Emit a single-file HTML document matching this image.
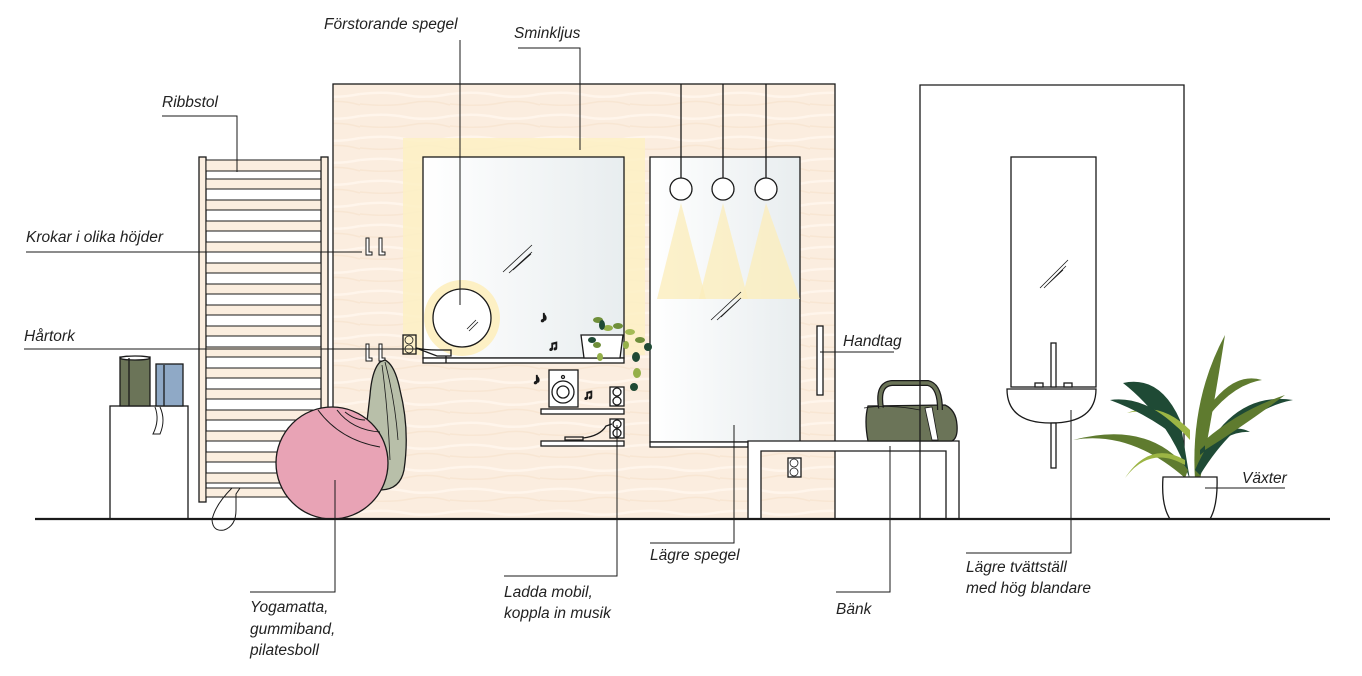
<!DOCTYPE html>
<html><head><meta charset="utf-8"><style>
html,body{margin:0;padding:0;background:#fff;}
svg{display:block}
text{font-family:"Liberation Sans",sans-serif;font-style:italic;font-size:15.5px;fill:#222;}
</style></head><body>
<svg width="1362" height="676" viewBox="0 0 1362 676" xmlns="http://www.w3.org/2000/svg">
<defs>
<linearGradient id="mir" x1="0" x2="1" y1="0" y2="0"><stop offset="0" stop-color="#ffffff"/><stop offset="1" stop-color="#e8edef"/></linearGradient>
<pattern id="wood" width="90" height="22" patternUnits="userSpaceOnUse"><rect width="90" height="22" fill="#fbeddf"/><path d="M0 6 Q25 3 45 7 T90 6" stroke="#fff5eb" stroke-width="2.5" fill="none"/><path d="M0 16 Q30 19 50 15 T90 17" stroke="#f8e6d3" stroke-width="1.5" fill="none"/></pattern>
</defs>
<g stroke="#1a1a1a" stroke-width="1.3" fill="none">
<rect x="333" y="84" width="502" height="435" fill="url(#wood)"/>
<rect x="403" y="138" width="242" height="217" fill="#fdf0c4" stroke="none" opacity="0.85"/>
<rect x="423" y="157" width="201" height="201" fill="url(#mir)"/>
<rect x="423" y="358" width="201" height="5" fill="#fff"/>
<circle cx="462" cy="318" r="38" fill="#fdf0c4" stroke="none"/>
<circle cx="462" cy="318" r="29" fill="#fff"/>
<path d="M467 329 L476 320 M469 331 L478 322" stroke-width="0.8"/>
<path d="M503 272 L532 245 M509 273 L532 252 M513 270 L531 254" stroke-width="0.8"/>
<rect x="650" y="157" width="150" height="285" fill="url(#mir)"/>
<rect x="650" y="442" width="98" height="5" fill="#fff"/>
<polygon points="681,203 657,299 706,299" fill="#fbeebd" stroke="none" opacity="0.8"/>
<polygon points="723,203 699,299 748,299" fill="#fbeebd" stroke="none" opacity="0.8"/>
<polygon points="766,203 742,299 800,299" fill="#fbeebd" stroke="none" opacity="0.8"/>
<path d="M681 84 V178 M723 84 V178 M766 84 V178"/>
<circle cx="681" cy="189" r="11" fill="#fff"/><circle cx="723" cy="189" r="11" fill="#fff"/><circle cx="766" cy="189" r="11" fill="#fff"/>
<path d="M711 320 L741 292 M717 320 L741 298 M721 317 L739 300" stroke-width="0.8"/>
<rect x="817" y="326" width="6" height="69" fill="#fff"/>
<rect x="541" y="409" width="83" height="5" fill="#fff"/>
<rect x="541" y="441" width="83" height="5" fill="#fff"/>
<rect x="549" y="370" width="29" height="37" fill="#fff"/>
<circle cx="563" cy="392" r="11"/><circle cx="563" cy="392" r="6"/><circle cx="563" cy="377" r="1.5"/>
<rect x="610" y="387" width="14" height="19" fill="#fff"/><circle cx="617" cy="392" r="4"/><circle cx="617" cy="401" r="4"/>
<rect x="610" y="419" width="14" height="19" fill="#fff"/><circle cx="617" cy="424" r="4"/><circle cx="617" cy="433" r="4"/>
<path d="M565 437 h18 v3 h-18z M583 438 Q600 436 606 426 L612 424"/>
<rect x="403" y="335" width="13" height="19"/><circle cx="409" cy="340" r="4" stroke-width="0.8"/><circle cx="409" cy="349" r="4" stroke-width="0.8"/>
<path d="M416 348 Q425 350 437 350 h14 v6 h-14z M446 356 v7" />
<text x="540" y="322" style="font-style:normal;font-size:15px">♪</text>
<text x="548" y="350" style="font-style:normal;font-size:14px">♫</text>
<text x="533" y="384" style="font-style:normal;font-size:15px">♪</text>
<text x="583" y="399" style="font-style:normal;font-size:14px">♫</text>
<path d="M581 335 h42 l-3 23 h-36z" fill="#fff"/>
<g fill="#6f8f3a" stroke="none">
<ellipse cx="598" cy="320" rx="5" ry="3"/><ellipse cx="608" cy="328" rx="5" ry="3" fill="#95b04a"/><ellipse cx="618" cy="326" rx="5" ry="3"/><ellipse cx="630" cy="332" rx="5" ry="3" fill="#a4bb55"/><ellipse cx="640" cy="340" rx="5" ry="3"/><ellipse cx="648" cy="347" rx="4" ry="4" fill="#1f4a35"/><ellipse cx="636" cy="357" rx="4" ry="5" fill="#1f4a35"/><ellipse cx="637" cy="373" rx="4" ry="5" fill="#95b04a"/><ellipse cx="634" cy="387" rx="4" ry="4" fill="#1f4a35"/><ellipse cx="597" cy="345" rx="4" ry="3"/><ellipse cx="600" cy="357" rx="3" ry="4" fill="#95b04a"/><ellipse cx="592" cy="340" rx="4" ry="3" fill="#1f4a35"/><ellipse cx="602" cy="325" rx="3" ry="5" fill="#1f4a35"/><ellipse cx="626" cy="345" rx="3" ry="4" fill="#95b04a"/>
</g>
<path d="M366 238 v17 h6 v-3 h-3 v-14z M379 238 v17 h6 v-3 h-3 v-14z" fill="#fff" stroke-width="1"/>
<path d="M366 344 v17 h6 v-3 h-3 v-14z M379 344 v17 h6 v-3 h-3 v-14z" fill="#fff" stroke-width="1"/>
<path d="M380 362 Q372 370 370 395 L366 430 Q365 470 380 490 Q400 490 404 470 Q410 430 400 390 Q395 365 385 360z" fill="#b8bfa9"/>
<path d="M385 362 Q395 400 398 440 M382 365 Q388 410 390 460" stroke-width="0.8"/>
<rect x="199" y="157" width="7" height="345" fill="#fbeedf"/>
<rect x="321" y="157" width="7" height="345" fill="#fbeedf"/>
</g>
<g stroke="#1a1a1a" stroke-width="1" fill="#fbeedf">
<rect x="206" y="160" width="115" height="11"/><rect x="206" y="179" width="115" height="10"/><rect x="206" y="200" width="115" height="10"/><rect x="206" y="221" width="115" height="10"/><rect x="206" y="242" width="115" height="10"/><rect x="206" y="263" width="115" height="10"/><rect x="206" y="284" width="115" height="10"/><rect x="206" y="305" width="115" height="10"/><rect x="206" y="326" width="115" height="10"/><rect x="206" y="347" width="115" height="10"/><rect x="206" y="368" width="115" height="10"/><rect x="206" y="389" width="115" height="10"/><rect x="206" y="410" width="115" height="10"/><rect x="206" y="431" width="115" height="10"/><rect x="206" y="452" width="115" height="10"/><rect x="206" y="473" width="115" height="10"/><rect x="206" y="488" width="115" height="9"/>
</g>
<g stroke="#1a1a1a" stroke-width="1.3" fill="none">
<circle cx="332" cy="463" r="56" fill="#e8a3b5"/>
<path d="M318 410 Q340 440 380 447 M337 410 Q352 430 380 432 M345 412 Q355 420 365 420" stroke-width="1"/>
<path d="M232 488 Q215 505 212 520 Q213 532 224 530 Q236 526 236 510 L236 494 L240 488z" stroke-width="1"/>
<rect x="110" y="406" width="78" height="113" fill="#fff"/>
<rect x="120" y="357" width="30" height="49" fill="#6b7458"/><ellipse cx="135" cy="358" rx="15" ry="2" fill="#fff"/><path d="M129 358 V406"/>
<rect x="156" y="364" width="27" height="42" fill="#8fa9c6"/><path d="M164 365 V406"/>
<path d="M160 407 Q166 420 160 434 L153 434 Q160 420 155 407" stroke-width="1"/>
<path d="M748 519 V441 H959 V519 H946 V451 H761 V519z" fill="#fff"/>
<rect x="788" y="458" width="13" height="19" fill="#fff"/><circle cx="794" cy="463" r="4" stroke-width="0.8"/><circle cx="794" cy="472" r="4" stroke-width="0.8"/>
<path d="M868 441 Q864 420 868 406 L945 405 Q956 410 957 425 Q958 438 952 441z" fill="#6b7458"/>
<path d="M881 408 Q877 384 892 383 L928 383 Q940 386 940 410" stroke-width="6" stroke="#1a1a1a"/>
<path d="M881 408 Q877 384 892 383 L928 383 Q940 386 940 410" stroke-width="3.5" stroke="#6b7458"/>
<path d="M925 408 L932 440 L938 440 L932 407z" fill="#fff" stroke-width="0.8"/>
<path d="M864 408 Q890 404 920 410" stroke-width="0.8"/>
<path d="M920 519 V85 H1184 V519"/>
<rect x="1011" y="157" width="85" height="230" fill="#fff"/>
<path d="M1007 389 H1096 Q1096 423 1051 423 Q1007 423 1007 389z" fill="#fff"/>
<rect x="1051" y="343" width="5" height="44" fill="#fff"/>
<rect x="1035" y="383" width="8" height="4" fill="#fff"/><rect x="1064" y="383" width="8" height="4" fill="#fff"/>
<rect x="1051" y="423" width="5" height="45" fill="#fff"/>
<path d="M1040 288 L1068 260 M1044 288 L1066 266 M1047 285 L1063 270" stroke-width="0.8"/>
<g stroke="none">
<path d="M1195 480 Q1190 400 1225 335 Q1215 400 1200 480z" fill="#5f7b2f"/>
<path d="M1190 480 Q1170 420 1123 383 Q1160 375 1180 420z" fill="#1f4a35"/>
<path d="M1195 470 Q1230 390 1293 400 Q1240 410 1200 475z" fill="#1f4a35"/>
<path d="M1188 470 Q1150 420 1073 440 Q1130 430 1185 478z" fill="#5f7b2f"/>
<path d="M1185 460 Q1150 440 1125 478 Q1150 445 1185 465z" fill="#9cb544"/>
<path d="M1200 450 Q1230 420 1250 432 Q1230 430 1200 455z" fill="#1f4a35"/>
<path d="M1190 430 Q1160 400 1127 413 Q1160 405 1190 440z" fill="#9cb544"/>
<path d="M1200 420 Q1230 370 1262 380 Q1230 385 1202 425z" fill="#5f7b2f"/>
<path d="M1205 440 Q1240 410 1285 395 Q1245 425 1205 450z" fill="#5f7b2f"/>
<path d="M1180 430 Q1145 395 1110 400 Q1150 415 1180 440z" fill="#1f4a35"/>
</g>
<path d="M1163 477 H1217 Q1218 505 1210 519 H1170 Q1161 505 1163 477z" fill="#fff"/>
<path d="M35 519 H1330" stroke-width="2.2"/>
<path d="M460 40 V305" stroke-width="1"/>
<path d="M518 48 H580 V150" stroke-width="1"/>
<path d="M162 116 H237 V172" stroke-width="1"/>
<path d="M26 252 H362" stroke-width="1"/>
<path d="M24 349 H420" stroke-width="1"/>
<path d="M820 352 H894" stroke-width="1"/>
<path d="M1205 488 H1285" stroke-width="1"/>
<path d="M335 480 V592 H250" stroke-width="1"/>
<path d="M617 425 V576 H504" stroke-width="1"/>
<path d="M734 425 V543 H650" stroke-width="1"/>
<path d="M890 446 V592 H836" stroke-width="1"/>
<path d="M1071 410 V553 H966" stroke-width="1"/>
</g>
<text x="324" y="29">Förstorande spegel</text>
<text x="514" y="38">Sminkljus</text>
<text x="162" y="107">Ribbstol</text>
<text x="26" y="242">Krokar i olika höjder</text>
<text x="24" y="341">Hårtork</text>
<text x="843" y="346">Handtag</text>
<text x="1242" y="483">Växter</text>
<text x="250" y="612">Yogamatta,</text>
<text x="250" y="634">gummiband,</text>
<text x="250" y="655">pilatesboll</text>
<text x="504" y="597">Ladda mobil,</text>
<text x="504" y="618">koppla in musik</text>
<text x="650" y="560">Lägre spegel</text>
<text x="836" y="614">Bänk</text>
<text x="966" y="572">Lägre tvättställ</text>
<text x="966" y="593">med hög blandare</text>
</svg>
</body></html>
